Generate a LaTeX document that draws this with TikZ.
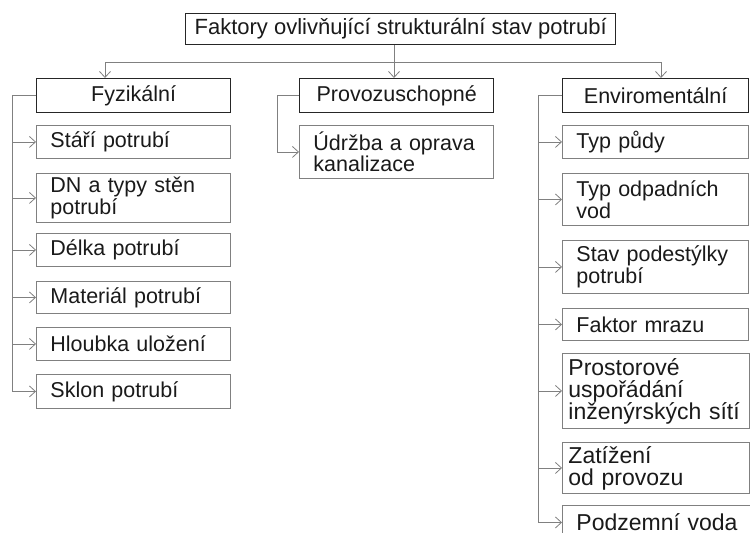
\documentclass[tikz,border=0pt]{standalone}
\usepackage{fontspec}
\setmainfont{Liberation Sans}
\usepackage{tikz}
\usetikzlibrary{arrows.meta,positioning,calc}
\definecolor{boxline}{HTML}{808080}
\definecolor{headline}{HTML}{262626}
\definecolor{txt}{HTML}{1A1A1A}
\tikzset{
  fhead/.style={draw=headline,line width=1.3pt,fill=white,text=txt,align=center,inner sep=0pt,anchor=north west},
  fitem/.style={draw=boxline,line width=0.9pt,fill=white,text=txt,align=left,inner xsep=14pt,inner ysep=0pt,anchor=north west,text width=#1},
  fitem/.default=166pt,
  fbig/.style={font=\fontsize{23}{22}\selectfont},
  ftight/.style={fitem=175pt,inner xsep=6pt,fbig},
  farr/.style={-{Straight Barb[length=6pt,width=11pt]},line width=0.8pt,draw=boxline},
  fline/.style={line width=0.8pt,draw=boxline}
}
\begin{document}
\begin{tikzpicture}[x=1pt,y=-1pt,font=\fontsize{21.5}{21.5}\selectfont]
  \useasboundingbox (0,0) rectangle (750,533);
  % positions taken in pixels from the top left corner
  \node[fhead,minimum width=430pt,minimum height=31pt,font=\fontsize{22}{22}\selectfont] (top) at (185,13) {Faktory ovlivňující strukturální stav potrubí};
  \node[fhead,minimum width=194pt,minimum height=34pt] (fyz) at (36,78) {Fyzikální};
  \node[fhead,minimum width=194pt,minimum height=34pt] (prov) at (299,78) {Provozuschopné};
  \node[fhead,minimum width=186pt,minimum height=34pt] (env) at (562,78) {Enviromentální};

  \node[fitem,minimum height=33pt] (s1) at (36,125) {Stáří potrubí};
  \node[fitem,minimum height=49pt] (s2) at (36,173) {DN a typy stěn\\potrubí};
  \node[fitem,minimum height=33pt] (s3) at (36,233) {Délka potrubí};
  \node[fitem,minimum height=32pt] (s4) at (36,281) {Materiál potrubí};
  \node[fitem,minimum height=33pt] (s5) at (36,327) {Hloubka uložení};
  \node[fitem,minimum height=34pt] (s6) at (36,374) {Sklon potrubí};

  \node[fitem,minimum height=53pt] (u1) at (299,125) {Údržba a oprava\\kanalizace};

  \node[fitem=158pt,minimum height=33pt] (e1) at (562,125) {Typ půdy};
  \node[fitem=158pt,minimum height=52pt] (e2) at (562,173) {Typ odpadních\\vod};
  \node[fitem=158pt,minimum height=53pt] (e3) at (562,240) {Stav podestýlky\\potrubí};
  \node[fitem=158pt,minimum height=32pt] (e4) at (562,308) {Faktor mrazu};
  \node[ftight,minimum height=75pt] (e5) at (562,353) {Prostorové\\uspořádání\\inženýrských sítí};
  \node[ftight,minimum height=51pt] (e6) at (562,442) {Zatížení\\od provozu};
  \node[fitem=164pt,minimum height=34pt,fbig] (e7) at (562,505) {Podzemní voda};

  \coordinate (hub) at (394,62);
  \coordinate (hubL) at (105,62);
  \coordinate (hubR) at (661,62);
  \draw[fline] (hubL) -- (hubR);
  \draw[farr] (top.south -| hub) -- (hub |- prov.north);
  \draw[farr] (hubL) -- (hubL |- fyz.north);
  \draw[farr] (hubR) -- (hubR |- env.north);

  \foreach \i in {s1,s2,s3,s4,s5,s6}
    \draw[farr] (fyz.west) -- ++(-24,0) |- (\i.west);
  \draw[farr] (prov.west) -- ++(-22,0) |- (u1.west);
  \foreach \i in {e1,e2,e3,e4,e5,e6,e7}
    \draw[farr] (env.west) -- ++(-24,0) |- (\i.west);
\end{tikzpicture}
\end{document}
